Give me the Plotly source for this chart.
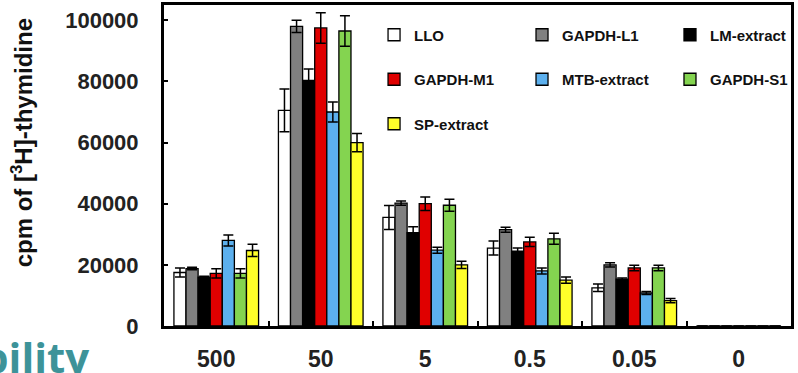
import plotly.graph_objects as go

categories = ["500", "50", "5", "0.5", "0.05", "0"]
series_names = ["LLO", "GAPDH-L1", "LM-extract", "GAPDH-M1", "MTB-extract", "GAPDH-S1", "SP-extract"]
llo = [17500, 70500, 35500, 25500, 12500, 0]
llo_err = [1500, 7000, 3900, 2300, 1200, 0]
gapdh_l1 = [18800, 98000, 40200, 31500, 20000, 0]
gapdh_l1_err = [400, 2000, 700, 800, 700, 0]
lm_extract = [16000, 80300, 30500, 24500, 15300, 0]
lm_extract_err = [300, 3800, 2000, 1000, 400, 0]
gapdh_m1 = [17200, 97500, 40000, 27500, 19000, 0]
gapdh_m1_err = [1500, 5000, 2200, 1500, 900, 0]
mtb_extract = [28000, 70000, 24800, 18000, 10800, 0]
mtb_extract_err = [1800, 3300, 1000, 1000, 500, 0]
gapdh_s1 = [17200, 96500, 39500, 28500, 19000, 0]
gapdh_s1_err = [1500, 5000, 2000, 1800, 900, 0]
sp_extract = [24700, 60000, 20000, 15000, 8300, 0]
sp_extract_err = [2000, 3000, 1200, 1000, 700, 0]
y_ticks = [0, 20000, 40000, 60000, 80000, 100000]
y_tick_labels = ["0", "20000", "40000", "60000", "80000", "100000"]

values = [llo, gapdh_l1, lm_extract, gapdh_m1, mtb_extract, gapdh_s1, sp_extract]
errors = [llo_err, gapdh_l1_err, lm_extract_err, gapdh_m1_err, mtb_extract_err, gapdh_s1_err, sp_extract_err]
colors = ["#ffffff", "#808080", "#000000", "#e00000", "#5cb0ee", "#84d450", "#ffff2a"]
legend_ids = ["legend", "legend2", "legend3", "legend", "legend2", "legend3", "legend"]

fig = go.Figure()
for name, v, e, c, lg in zip(series_names, values, errors, colors, legend_ids):
    fig.add_trace(go.Bar(
        x=categories, y=v, name=name, legend=lg, legendgroup=name,
        marker=dict(color=c, line=dict(color="black", width=1.3)),
        error_y=dict(type="data", array=e, visible=True, color="black",
                     thickness=1.5, width=5),
    ))

label_font = dict(family="Liberation Sans, Arial", size=22, color="#222222", weight="bold")
leg_font = dict(family="Liberation Sans, Arial", size=15, color="#111111", weight="bold")

common_leg = dict(orientation="v", bgcolor="rgba(0,0,0,0)", font=leg_font,
                  tracegroupgap=22, itemwidth=30, yanchor="top", y=0.958, xanchor="left")

fig.update_layout(
    width=798, height=373,
    margin=dict(l=164, r=7, t=5, b=47, autoexpand=False),
    paper_bgcolor="white", plot_bgcolor="white",
    barmode="group", bargap=0.19, bargroupgap=0,
    showlegend=True,
    legend=dict(**common_leg, x=0.335),
    legend2=dict(**common_leg, x=0.571),
    legend3=dict(**common_leg, x=0.807),
    xaxis=dict(
        type="category", showgrid=False, zeroline=False, automargin=False,
        showline=True, linecolor="black", linewidth=3, mirror=True,
        ticks="inside", tickson="boundaries", ticklen=5, tickwidth=1.5, tickcolor="black",
        tickfont=dict(family="Liberation Sans, Arial", size=23, color="#222222", weight="bold"),
        ticklabelstandoff=10,
    ),
    yaxis=dict(
        range=[0, 105000], showgrid=False, zeroline=False, automargin=False,
        showline=True, linecolor="black", linewidth=3, mirror=True,
        ticks="inside", ticklen=4, tickwidth=1.5, tickcolor="black",
        tickvals=y_ticks, ticktext=y_tick_labels,
        tickfont=label_font, ticklabelstandoff=18,
    ),
    annotations=[
        dict(text="cpm of [<sup>3</sup>H]-thymidine", textangle=-90,
             xref="paper", yref="paper", x=-0.226, y=0.57,
             xanchor="center", yanchor="middle", showarrow=False,
             font=dict(family="Liberation Sans, Arial", size=24, color="#111111", weight="bold")),
        dict(text="bility", xref="paper", yref="paper",
             x=-0.117, y=0.0, xanchor="right", yanchor="top", showarrow=False,
             font=dict(family="Open Sans, Arial", size=42, color="#3d9399", weight="bold")),
    ],
)

fig.write_html("out.html")
